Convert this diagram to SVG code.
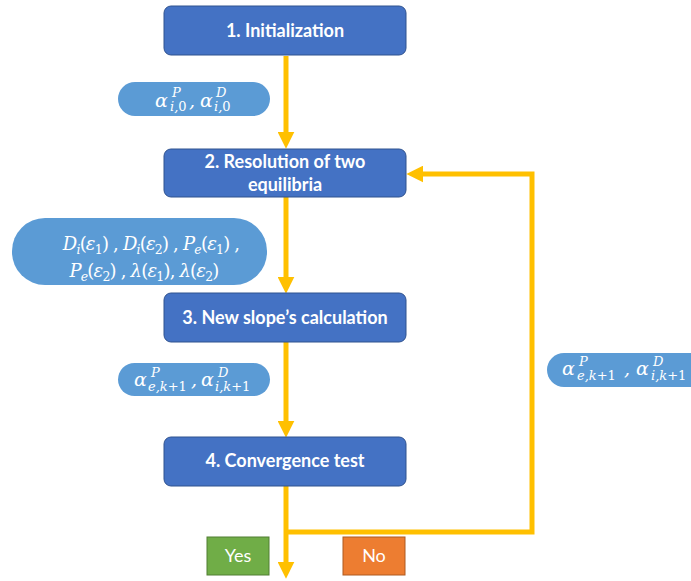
<svg xmlns="http://www.w3.org/2000/svg" width="691" height="581" viewBox="0 0 691 581">
<style>
.box{fill:#4472C4;stroke:#2F528F;stroke-width:1}
.bt{font-family:Lato,"Open Sans","Liberation Sans",sans-serif;font-weight:bold;font-size:18px;fill:#fff;text-anchor:middle}
.pill{fill:#5B9BD5}
.m{font-family:"DejaVu Serif","Liberation Serif",serif;font-style:italic;font-size:19px;fill:#fff}
.m2{font-size:18px;letter-spacing:-0.8px}
.s{font-size:13px}
.s2{font-size:12.5px}
.u{font-style:normal}
.con{fill:none;stroke:#FFC000;stroke-width:5}
.tag{font-family:Lato,"Open Sans","Liberation Sans",sans-serif;font-size:18px;fill:#fff;text-anchor:middle}
</style>
<defs>
<marker id="ah" markerUnits="userSpaceOnUse" markerWidth="17" markerHeight="17" viewBox="0 0 16 16" refX="6" refY="8" orient="auto">
<path d="M0,0 L16,8 L0,16 z" fill="#FFC000"/>
</marker>
</defs>
<rect width="691" height="581" fill="#fff"/>
<g id="connectors">
<line class="con" x1="286" y1="56" x2="286" y2="138" marker-end="url(#ah)"/>
<line class="con" x1="286" y1="197" x2="286" y2="283" marker-end="url(#ah)"/>
<line class="con" x1="286" y1="342" x2="286" y2="427" marker-end="url(#ah)"/>
<line class="con" x1="286" y1="486" x2="286" y2="568" marker-end="url(#ah)"/>
<polyline class="con" points="286,532 532,532 532,174 417,174" marker-end="url(#ah)"/>
</g>
<g id="n1"><rect class="box" x="164" y="6" width="242" height="49" rx="7"/><text class="bt" x="285" y="37">1. Initialization</text></g>
<g id="n2"><rect class="box" x="164" y="149" width="242" height="48" rx="7"/><text class="bt" x="285" y="168">2. Resolution of two</text><text class="bt" x="285" y="191">equilibria</text></g>
<g id="n3"><rect class="box" x="164" y="293" width="242" height="49" rx="7"/><text class="bt" x="285" y="324">3. New slope’s calculation</text></g>
<g id="n4"><rect class="box" x="164" y="437" width="242" height="49" rx="7"/><text class="bt" x="285" y="467">4. Convergence test</text></g>
<g id="p1"><rect class="pill" x="118" y="82" width="152" height="34" rx="17"/>
<text class="m"><tspan x="155" y="107">α</tspan><tspan class="s" x="172" y="97">P</tspan><tspan class="s" x="170" y="111">i,<tspan class="u">0</tspan></tspan><tspan x="189" y="107">,</tspan><tspan x="200" y="107">α</tspan><tspan class="s" x="216" y="97">D</tspan><tspan class="s" x="214" y="111">i,<tspan class="u">0</tspan></tspan></text></g>
<g id="p2"><rect class="pill" x="12" y="218" width="255" height="67" rx="33"/>
<text class="m m2" x="151" y="250" text-anchor="middle">D<tspan class="s2" dy="4">i</tspan><tspan class="u" dy="-4">(</tspan>ε<tspan class="s2 u" dy="4">1</tspan><tspan class="u" dy="-4">) , </tspan>D<tspan class="s2" dy="4">i</tspan><tspan class="u" dy="-4">(</tspan>ε<tspan class="s2 u" dy="4">2</tspan><tspan class="u" dy="-4">) , </tspan>P<tspan class="s2" dy="4">e</tspan><tspan class="u" dy="-4">(</tspan>ε<tspan class="s2 u" dy="4">1</tspan><tspan class="u" dy="-4">) ,</tspan></text>
<text class="m m2" x="144" y="277" text-anchor="middle">P<tspan class="s2" dy="4">e</tspan><tspan class="u" dy="-4">(</tspan>ε<tspan class="s2 u" dy="4">2</tspan><tspan class="u" dy="-4">) , </tspan>λ<tspan class="u">(</tspan>ε<tspan class="s2 u" dy="4">1</tspan><tspan class="u" dy="-4">), </tspan>λ<tspan class="u">(</tspan>ε<tspan class="s2 u" dy="4">2</tspan><tspan class="u" dy="-4">)</tspan></text></g>
<g id="p3"><rect class="pill" x="118" y="363" width="152" height="33" rx="16.5"/>
<text class="m"><tspan x="134" y="386">α</tspan><tspan class="s" x="151" y="377">P</tspan><tspan class="s" x="148" y="391">e,k<tspan class="u">+1</tspan></tspan><tspan x="191" y="386">,</tspan><tspan x="201" y="386">α</tspan><tspan class="s" x="218" y="377">D</tspan><tspan class="s" x="215" y="391">i,k<tspan class="u">+1</tspan></tspan></text></g>
<g id="p4"><rect class="pill" x="547" y="353" width="170" height="34" rx="17"/>
<text class="m"><tspan x="562" y="375">α</tspan><tspan class="s" x="579" y="366">P</tspan><tspan class="s" x="577" y="380">e,k<tspan class="u">+1</tspan></tspan><tspan x="624" y="375">,</tspan><tspan x="636" y="375">α</tspan><tspan class="s" x="653" y="366">D</tspan><tspan class="s" x="651" y="380">i,k<tspan class="u">+1</tspan></tspan></text></g>
<g id="yes"><rect x="207" y="537" width="62" height="38" fill="#70AD47" stroke="#507E32" stroke-width="1"/><text class="tag" x="238" y="562">Yes</text></g>
<g id="no"><rect x="343" y="537" width="62" height="38" fill="#ED7D31" stroke="#AE5A21" stroke-width="1"/><text class="tag" x="374" y="562">No</text></g>
</svg>
